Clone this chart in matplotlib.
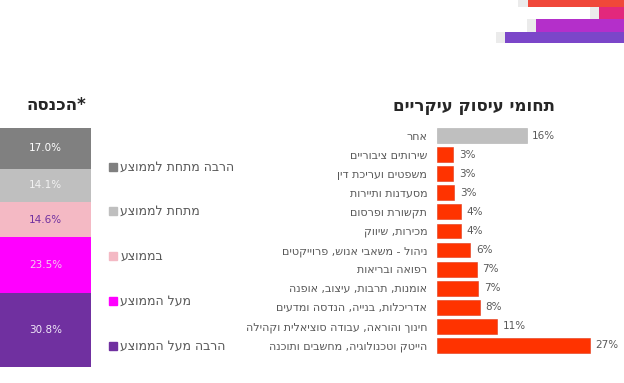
import matplotlib
matplotlib.use("Agg")
import matplotlib.pyplot as plt

plt.rcParams['font.family'] = ['DejaVu Sans']

W, H = 624, 383


def rtl(s):
    # matplotlib has no bidi support, so flip hebrew to visual order
    return s[::-1]


# income split (stacked bar, top to bottom)
income_labels = ["הרבה מתחת לממוצע", "מתחת לממוצע", "בממוצע", "מעל הממוצע", "הרבה מעל הממוצע"]
income_values = [17.0, 14.1, 14.6, 23.5, 30.8]
income_colors = ["#808080", "#bfbfbf", "#f4b9c4", "#ff00ff", "#7030a0"]
income_text_colors = ["#ffffff", "#f2f2f2", "#7030a0", "#f6c8f0", "#f0e8f8"]

# main fields (top to bottom)
fields = ["אחר", "שירותים ציבוריים", "משפטים ועריכת דין", "מסעדנות ותיירות",
          "תקשורת ופרסום", "מכירות, שיווק", "ניהול - משאבי אנוש, פרוייקטים",
          "רפואה ובריאות", "אומנות, תרבות, עיצוב, אופנה",
          "אדריכלות, בנייה, הנדסה ומדעים", "חינוך והוראה, עבודה סוציאלית וקהילה",
          "הייטק וטכנולוגיה, מחשבים ותוכנה"]
field_values = [15.9, 2.9, 2.9, 3.1, 4.2, 4.3, 5.9, 7.1, 7.3, 7.6, 10.7, 27.2]
field_labels = ["16%", "3%", "3%", "3%", "4%", "4%", "6%", "7%", "7%", "8%", "11%", "27%"]
field_colors = ["#bfbfbf"] + ["#ff3300"] * 11

text_gray = "#595959"

fig = plt.figure(figsize=(W / 100, H / 100), dpi=100)


def box(x0, y0, x1, y1):
    # pixel box (top-left origin) -> figure fraction
    return [x0 / W, 1 - y1 / H, (x1 - x0) / W, (y1 - y0) / H]


# decorative stripes in the top right corner
deco = fig.add_axes([0, 0, 1, 1])
deco.set_xlim(0, W)
deco.set_ylim(H, 0)
deco.axis("off")
stripes = [(528, 0, 7, "#f0483a", 518), (599, 7, 12, "#e2287c", 590),
           (536, 19, 13, "#b42fca", 527), (505, 32, 11, "#7b46c9", 496)]
for x0, y0, h, c, g0 in stripes:
    deco.broken_barh([(g0, x0 - g0)], (y0, h), facecolors="#ebebeb")
    deco.broken_barh([(x0, W - x0)], (y0, h), facecolors=c)

# stacked income bar
ax1 = fig.add_axes(box(0, 128, 91, 367))
bottom = 0
for v, c, tc in zip(income_values, income_colors, income_text_colors):
    ax1.bar(0, v, bottom=bottom, width=1, color=c, linewidth=0)
    ax1.text(0, bottom + v / 2, f"{v:.1f}%", ha="center", va="center",
             color=tc, fontsize=7.5)
    bottom += v
ax1.set_xlim(-0.5, 0.5)
ax1.set_ylim(100, 0)
ax1.axis("off")

fig.text(56 / W, 1 - 105 / H, rtl("הכנסה") + "*", ha="center", va="center",
         fontsize=12, fontweight="bold", color="#262626")

# legend for the income bar
leg_y = [167, 211, 256, 301, 346]
for lab, c, y in zip(income_labels, income_colors, leg_y):
    fig.patches.append(plt.Rectangle((109 / W, 1 - (y + 4) / H), 8 / W, 8 / H,
                                     transform=fig.transFigure, color=c))
    fig.text(120 / W, 1 - y / H, rtl(lab), ha="left", va="center",
             fontsize=9, color=text_gray)

# main fields bar chart
ax2 = fig.add_axes(box(437, 126, W, 355))
ypos = list(range(len(fields)))
bars = ax2.barh(ypos, field_values, height=0.78, color=field_colors,
                edgecolor=["#b0b0b0"] + ["#e03a1a"] * 11, linewidth=0.4)
for b, lab in zip(bars, field_labels):
    ax2.annotate(lab, (b.get_width(), b.get_y() + b.get_height() / 2),
                 xytext=(4, 0), textcoords="offset points", ha="left",
                 va="center", fontsize=7.5, color=text_gray)
ax2.set_xlim(0, (W - 437) / 5.63)
ax2.set_ylim(len(fields) - 0.5, -0.5)
ax2.set_yticks(ypos)
ax2.set_yticklabels([rtl(f) for f in fields], fontsize=8, color=text_gray)
ax2.tick_params(axis="y", length=0, pad=7)
ax2.set_xticks([])
for s in ax2.spines.values():
    s.set_visible(False)

fig.text(474 / W, 1 - 106 / H, rtl("תחומי עיסוק עיקריים"), ha="center",
         va="center", fontsize=12, fontweight="bold", color="#262626")

fig.savefig("out.png", dpi=100)
